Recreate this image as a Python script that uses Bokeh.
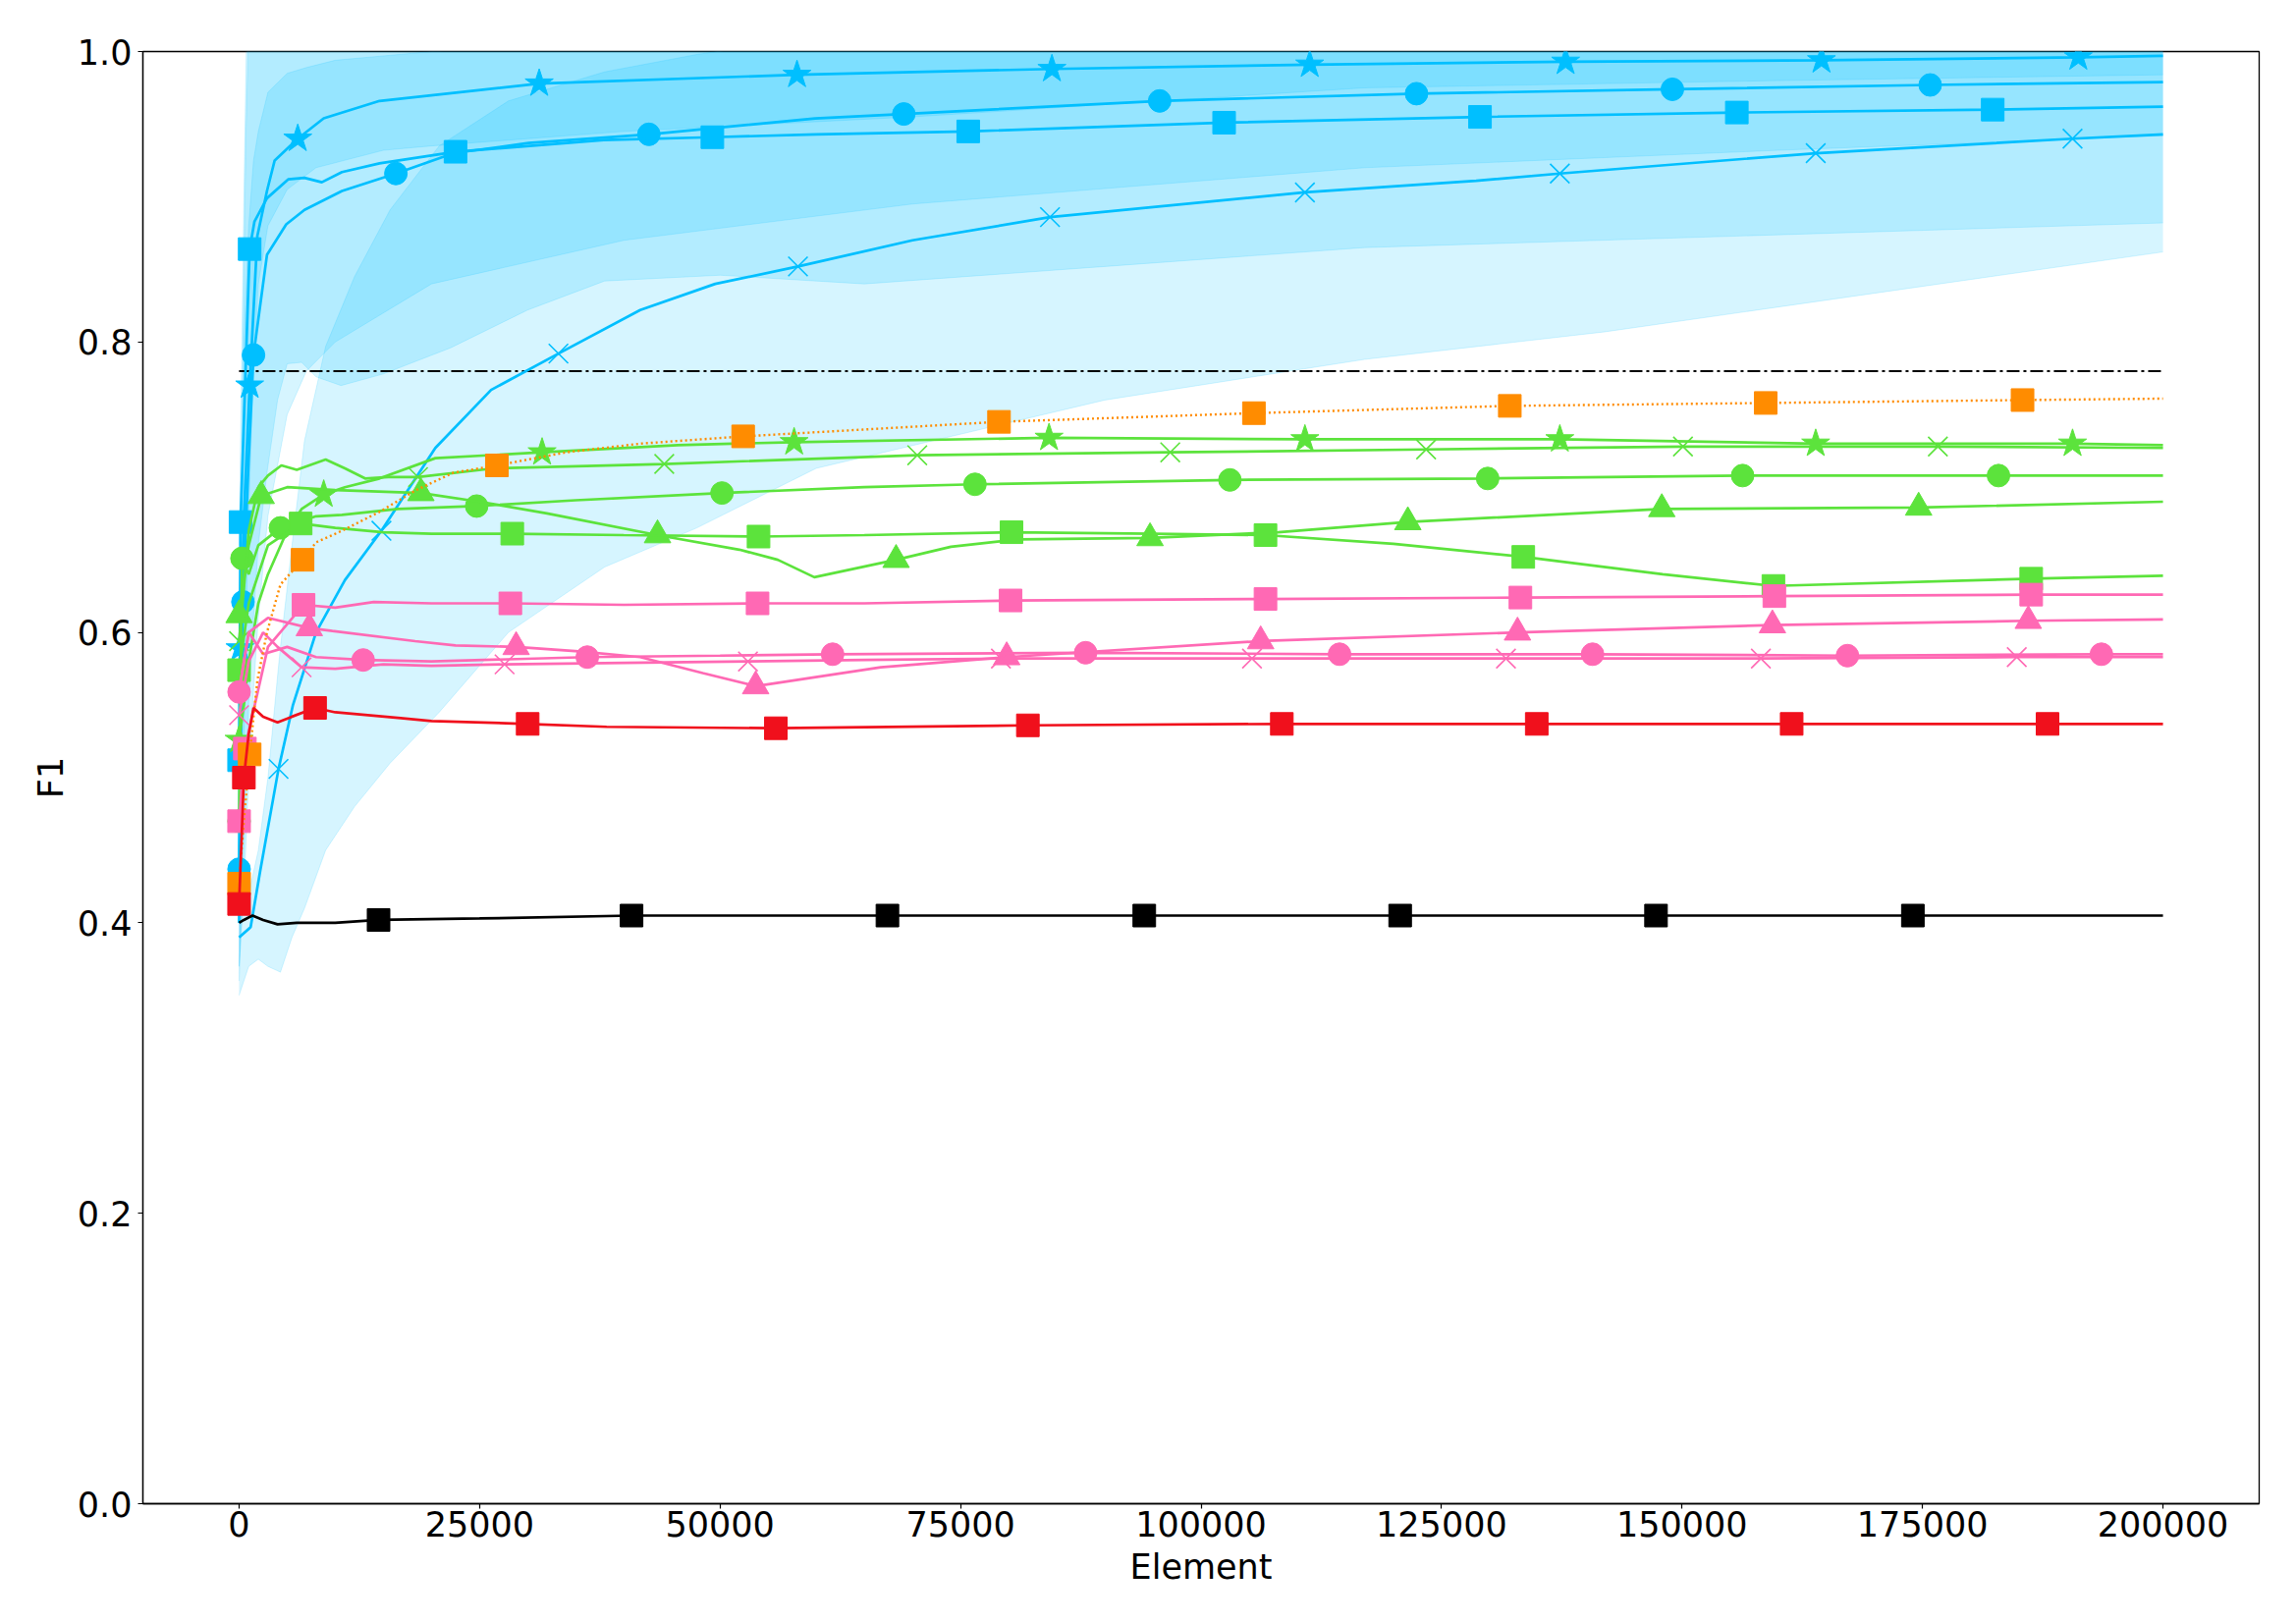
from bokeh.plotting import figure
from bokeh.models import Range1d, FixedTicker
from bokeh.embed import file_html
from bokeh.resources import INLINE

# ---------------- data ----------------
X_TICKS = [0, 25000, 50000, 75000, 100000, 125000, 150000, 175000, 200000]
X_TICK_LABELS = ["0", "25000", "50000", "75000", "100000", "125000", "150000", "175000", "200000"]
Y_TICKS = [0.0, 0.2, 0.4, 0.6, 0.8, 1.0]
Y_TICK_LABELS = ["0.0", "0.2", "0.4", "0.6", "0.8", "1.0"]
X_LABEL = "Element"
Y_LABEL = "F1"
REF_F1 = 0.78
REF_X = [0, 200000]

# blue series (with bands)
BSTAR_X = [0, 100, 500, 1100, 1900, 2900, 3700, 6100, 8800, 14600, 31200, 58000, 84500, 111300, 137900, 164500, 191200, 200000]
BSTAR_Y = [0.40, 0.589, 0.68, 0.770, 0.873, 0.904, 0.925, 0.940, 0.954, 0.966, 0.978, 0.984, 0.988, 0.991, 0.993, 0.994, 0.996, 0.997]
BSTAR_M = [1, 3, 7, 10, 11, 12, 13, 14, 15, 16]

BCIRC_X = [0, 400, 1000, 1500, 2900, 4900, 6800, 10700, 16300, 22300, 30100, 42600, 59900, 69100, 95700, 122400, 149000, 175800, 200000]
BCIRC_Y = [0.437, 0.621, 0.72, 0.791, 0.860, 0.881, 0.891, 0.904, 0.916, 0.930, 0.937, 0.943, 0.954, 0.957, 0.966, 0.971, 0.974, 0.977, 0.979]
BCIRC_M = [0, 1, 3, 8, 11, 13, 14, 15, 16, 17]

BSQ_X = [0, 150, 1100, 1600, 2900, 5100, 6800, 8600, 10700, 14600, 22500, 37900, 49200, 60000, 75800, 102400, 129000, 155700, 182300, 200000]
BSQ_Y = [0.512, 0.676, 0.864, 0.883, 0.899, 0.912, 0.913, 0.910, 0.917, 0.923, 0.931, 0.939, 0.941, 0.943, 0.945, 0.951, 0.955, 0.958, 0.960, 0.962]
BSQ_M = [0, 1, 2, 10, 12, 14, 15, 16, 17, 18]

BX_X = [0, 1200, 2200, 4100, 5600, 8000, 11000, 14800, 20400, 26200, 33200, 41700, 49500, 58100, 70000, 84300, 110800, 128600, 137300, 163900, 190600, 200000]
BX_Y = [0.39, 0.397, 0.436, 0.506, 0.550, 0.600, 0.636, 0.670, 0.727, 0.767, 0.792, 0.822, 0.840, 0.852, 0.870, 0.886, 0.903, 0.911, 0.916, 0.930, 0.940, 0.943]
BX_M = [3, 7, 10, 13, 15, 16, 18, 19, 20]

# bands (lower / upper)
BAND_STAR_X = [0, 300, 700, 1000, 1500, 2000, 3000, 5000, 8000, 15000, 20000, 40000, 70000, 117000, 160000, 200000]
BAND_STAR_LO = [0.37, 0.45, 0.60, 0.68, 0.78, 0.84, 0.88, 0.905, 0.92, 0.932, 0.935, 0.945, 0.955, 0.975, 0.980, 0.984]
BAND_STAR_HI = [0.43, 0.75, 0.94, 1.02, 1.04, 1.04, 1.04, 1.04, 1.04, 1.03, 1.03, 1.02, 1.02, 1.01, 1.01, 1.01]

BAND_CIRC_X = [0, 500, 1000, 1500, 2000, 3000, 5000, 7000, 10000, 15000, 20000, 40000, 70000, 117000, 160000, 200000]
BAND_CIRC_LO = [0.37, 0.42, 0.50, 0.56, 0.61, 0.68, 0.75, 0.78, 0.80, 0.82, 0.84, 0.87, 0.895, 0.920, 0.932, 0.942]
BAND_CIRC_HI = [0.50, 0.80, 0.88, 0.925, 0.945, 0.972, 0.985, 0.989, 0.994, 0.997, 1.00, 1.01, 1.02, 1.02, 1.02, 1.02]

BAND_SQ_X = [0, 500, 1000, 1400, 2000, 2900, 4000, 5000, 6500, 8000, 10600, 15000, 22000, 30000, 38000, 50000, 65000, 90000, 117000, 200000]
BAND_SQ_LO = [0.36, 0.45, 0.55, 0.60, 0.66, 0.71, 0.76, 0.785, 0.786, 0.776, 0.770, 0.778, 0.796, 0.822, 0.842, 0.846, 0.840, 0.852, 0.865, 0.882]
BAND_SQ_HI = [0.66, 0.90, 1.10, 1.10, 1.08, 1.06, 1.05, 1.05, 1.05, 1.05, 1.05, 1.05, 1.05, 1.05, 1.05, 1.05, 1.05, 1.04, 1.04, 1.04]

BAND_X_X = [0, 1000, 2000, 3000, 4000, 4300, 5500, 6800, 9000, 12000, 15700, 20800, 28000, 38000, 47600, 60000, 90000, 117000, 142000, 200000]
BAND_X_LO = [0.35, 0.37, 0.375, 0.37, 0.367, 0.366, 0.39, 0.41, 0.45, 0.48, 0.51, 0.545, 0.60, 0.645, 0.672, 0.713, 0.76, 0.788, 0.807, 0.862]
BAND_X_HI = [0.40, 0.42, 0.45, 0.50, 0.57, 0.59, 0.66, 0.732, 0.797, 0.845, 0.891, 0.935, 0.966, 0.986, 0.998, 1.01, 1.02, 1.03, 1.03, 1.03]

# green series
GSTAR_X = [0, 500, 1000, 2000, 3000, 4000, 5000, 6500, 8800, 11000, 14600, 20400, 31500, 45600, 57700, 84200, 110800, 137300, 163900, 190600, 200000]
GSTAR_Y = [0.526, 0.55, 0.58, 0.62, 0.64, 0.655, 0.67, 0.685, 0.695, 0.70, 0.706, 0.72, 0.724, 0.729, 0.731, 0.734, 0.733, 0.733, 0.730, 0.730, 0.729]
GSTAR_M = [0, 8, 12, 14, 15, 16, 17, 18, 19]

GX_X = [0, 500, 1000, 2000, 3000, 4400, 6000, 9000, 11000, 13100, 15500, 18600, 26500, 44200, 70500, 96800, 123400, 150100, 176600, 200000]
GX_Y = [0.594, 0.63, 0.67, 0.70, 0.708, 0.715, 0.712, 0.719, 0.713, 0.706, 0.707, 0.707, 0.713, 0.716, 0.722, 0.724, 0.726, 0.728, 0.728, 0.727]
GX_M = [0, 11, 13, 14, 15, 16, 17, 18]

GCIRC_X = [0, 300, 1000, 2000, 4300, 8000, 10700, 16500, 24700, 35000, 50200, 65000, 76500, 103000, 129800, 156300, 182900, 200000]
GCIRC_Y = [0.47, 0.651, 0.64, 0.66, 0.672, 0.68, 0.681, 0.685, 0.687, 0.691, 0.696, 0.700, 0.702, 0.705, 0.706, 0.708, 0.708, 0.708]
GCIRC_M = [0, 1, 4, 8, 10, 12, 13, 14, 15, 16]

GTRI_X = [0, 1000, 2300, 5000, 10000, 18900, 25000, 32000, 43500, 52000, 56000, 59800, 68300, 74000, 81000, 94700, 108000, 121500, 147900, 174600, 200000]
GTRI_Y = [0.612, 0.66, 0.694, 0.70, 0.698, 0.696, 0.690, 0.682, 0.667, 0.657, 0.650, 0.638, 0.650, 0.659, 0.664, 0.665, 0.669, 0.676, 0.685, 0.686, 0.690]
GTRI_M = [0, 2, 5, 8, 12, 15, 17, 18, 19]

GSQ_X = [0, 1000, 3000, 6400, 10000, 15000, 20000, 28400, 40000, 54000, 65000, 80300, 95000, 106700, 120000, 133500, 148000, 159500, 186300, 200000]
GSQ_Y = [0.574, 0.62, 0.66, 0.675, 0.672, 0.669, 0.668, 0.668, 0.667, 0.666, 0.667, 0.669, 0.668, 0.667, 0.661, 0.652, 0.640, 0.632, 0.637, 0.639]
GSQ_M = [0, 3, 7, 9, 11, 13, 15, 17, 18]

# pink series
PSQ_X = [0, 600, 3000, 6700, 10000, 14000, 20000, 28200, 40000, 53900, 65000, 80200, 106700, 133200, 159600, 186300, 200000]
PSQ_Y = [0.47, 0.52, 0.59, 0.619, 0.617, 0.621, 0.620, 0.620, 0.619, 0.620, 0.620, 0.622, 0.623, 0.624, 0.625, 0.626, 0.626]
PSQ_M = [0, 1, 3, 7, 9, 11, 12, 13, 14, 15]

PTRI_X = [0, 1000, 3000, 7300, 9700, 18300, 22500, 28800, 35300, 41700, 48200, 53700, 66700, 79800, 106200, 132900, 159400, 186000, 200000]
PTRI_Y = [0.56, 0.60, 0.61, 0.603, 0.601, 0.594, 0.591, 0.590, 0.587, 0.583, 0.572, 0.563, 0.576, 0.583, 0.594, 0.600, 0.605, 0.608, 0.609]
PTRI_M = [3, 7, 11, 13, 14, 15, 16, 17]

PX_X = [0, 1000, 2500, 4000, 6500, 10000, 15000, 20000, 27600, 40000, 52900, 65000, 79200, 105300, 131700, 158200, 184800, 200000]
PX_Y = [0.543, 0.58, 0.60, 0.59, 0.576, 0.575, 0.578, 0.577, 0.578, 0.579, 0.580, 0.581, 0.582, 0.582, 0.582, 0.582, 0.583, 0.583]
PX_M = [0, 4, 8, 10, 12, 13, 14, 15, 16]

PCIRC_X = [0, 1000, 2500, 5000, 8000, 12900, 20000, 36200, 50000, 61700, 88000, 114400, 140700, 167200, 193600, 200000]
PCIRC_Y = [0.559, 0.60, 0.585, 0.59, 0.583, 0.581, 0.580, 0.583, 0.584, 0.585, 0.586, 0.585, 0.585, 0.584, 0.585, 0.585]
PCIRC_M = [0, 5, 7, 9, 10, 11, 12, 13, 14]

# red, orange, black
RED_X = [0, 500, 1000, 1500, 2500, 4000, 5500, 7900, 10000, 16800, 20000, 30000, 38200, 55800, 82000, 108400, 134900, 161400, 188000, 200000]
RED_Y = [0.413, 0.500, 0.53, 0.548, 0.542, 0.538, 0.542, 0.548, 0.545, 0.541, 0.539, 0.537, 0.535, 0.534, 0.536, 0.537, 0.537, 0.537, 0.537, 0.537]
RED_M = [0, 1, 7, 11, 13, 14, 15, 16, 17, 18]

OR_X = [0, 500, 1100, 1900, 2900, 4300, 6600, 8000, 10700, 14600, 18400, 22300, 26800, 34000, 41700, 52400, 79000, 105500, 132100, 158700, 185400, 200000]
OR_Y = [0.427, 0.47, 0.516, 0.567, 0.600, 0.633, 0.650, 0.662, 0.670, 0.683, 0.698, 0.710, 0.715, 0.724, 0.730, 0.735, 0.745, 0.751, 0.756, 0.758, 0.760, 0.761]
OR_M = [0, 2, 6, 12, 15, 16, 17, 18, 19, 20]

BK_X = [0, 500, 1400, 2500, 4000, 6000, 10000, 14500, 25000, 40800, 67400, 94100, 120700, 147300, 174000, 200000]
BK_Y = [0.40, 0.402, 0.405, 0.402, 0.399, 0.400, 0.400, 0.402, 0.403, 0.405, 0.405, 0.405, 0.405, 0.405, 0.405, 0.405]
BK_M = [7, 9, 10, 11, 12, 13, 14]

# ---------------- styles ----------------
BLUE = "#00BFFF"
GREEN = "#5CE33C"
PINK = "#FF69B4"
RED = "#F0101C"
ORANGE = "#FF8C00"
BLACK = "#000000"
FONT = "DejaVu Sans"
FS = "35px"
LW = 2.7
MS = 23

p = figure(width=2338, height=1653, output_backend="svg", toolbar_location=None,
           x_range=Range1d(-10000, 210000), y_range=Range1d(0, 1),
           min_border_left=145, min_border_right=38, min_border_top=52, min_border_bottom=122)
p.background_fill_color = "white"
p.border_fill_color = "white"
p.grid.visible = False
p.outline_line_color = BLACK
p.outline_line_width = 1.3

for ax in (p.xaxis[0], p.yaxis[0]):
    ax.axis_line_color = BLACK
    ax.axis_line_width = 1.3
    ax.major_tick_in = 0
    ax.major_tick_out = 5
    ax.major_tick_line_width = 1.2
    ax.minor_tick_line_color = None
    ax.major_label_text_font = FONT
    ax.major_label_text_font_size = FS
    ax.major_label_text_color = BLACK
    ax.axis_label_text_font = FONT
    ax.axis_label_text_font_size = FS
    ax.axis_label_text_font_style = "normal"
    ax.axis_label_text_color = BLACK

p.xaxis.major_label_standoff = 2
p.yaxis.major_label_standoff = 6
p.xaxis.ticker = FixedTicker(ticks=X_TICKS)
p.xaxis.major_label_overrides = {t: l for t, l in zip(X_TICKS, X_TICK_LABELS)}
p.yaxis.ticker = FixedTicker(ticks=Y_TICKS)
p.yaxis.major_label_overrides = {t: l for t, l in zip(Y_TICKS, Y_TICK_LABELS)}
p.xaxis.axis_label = X_LABEL
p.yaxis.axis_label = Y_LABEL
p.xaxis.axis_label_standoff = 8
p.yaxis.axis_label_standoff = 4

BAND_ALPHA = 0.16
for bx, lo, hi in [(BAND_STAR_X, BAND_STAR_LO, BAND_STAR_HI),
                   (BAND_CIRC_X, BAND_CIRC_LO, BAND_CIRC_HI),
                   (BAND_SQ_X, BAND_SQ_LO, BAND_SQ_HI),
                   (BAND_X_X, BAND_X_LO, BAND_X_HI)]:
    p.varea(x=bx, y1=lo, y2=hi, fill_color=BLUE, fill_alpha=BAND_ALPHA)
    p.line(bx, lo, line_color=BLUE, line_alpha=BAND_ALPHA, line_width=1)
    p.line(bx, hi, line_color=BLUE, line_alpha=BAND_ALPHA, line_width=1)

p.line(REF_X, [REF_F1, REF_F1], line_color=BLACK, line_width=2, line_dash="13 4 3 4")

series = [
    (BSTAR_X, BSTAR_Y, BSTAR_M, BLUE, "star", "solid"),
    (BCIRC_X, BCIRC_Y, BCIRC_M, BLUE, "circle", "solid"),
    (BSQ_X, BSQ_Y, BSQ_M, BLUE, "square", "solid"),
    (BX_X, BX_Y, BX_M, BLUE, "x", "solid"),
    (GSTAR_X, GSTAR_Y, GSTAR_M, GREEN, "star", "solid"),
    (GX_X, GX_Y, GX_M, GREEN, "x", "solid"),
    (GCIRC_X, GCIRC_Y, GCIRC_M, GREEN, "circle", "solid"),
    (GTRI_X, GTRI_Y, GTRI_M, GREEN, "triangle", "solid"),
    (GSQ_X, GSQ_Y, GSQ_M, GREEN, "square", "solid"),
    (PSQ_X, PSQ_Y, PSQ_M, PINK, "square", "solid"),
    (PTRI_X, PTRI_Y, PTRI_M, PINK, "triangle", "solid"),
    (PX_X, PX_Y, PX_M, PINK, "x", "solid"),
    (PCIRC_X, PCIRC_Y, PCIRC_M, PINK, "circle", "solid"),
    (OR_X, OR_Y, OR_M, ORANGE, "square", "2 3"),
    (RED_X, RED_Y, RED_M, RED, "square", "solid"),
    (BK_X, BK_Y, BK_M, BLACK, "square", "solid"),
]

for xs, ys, marks, col, mk, dash in series:
    p.line(xs, ys, line_color=col, line_width=LW if dash == "solid" else 2.4, line_dash=dash)
    mx = [xs[i] for i in marks]
    my = [ys[i] for i in marks]
    if mk == "x":
        p.scatter(mx, my, marker="x", size=MS + 5, line_color=col, line_width=1.6)
    elif mk == "star":
        p.scatter(mx, my, marker="star", size=MS + 7, fill_color=col, line_color=col, line_width=1)
    elif mk == "triangle":
        p.scatter(mx, my, marker="triangle", size=MS + 4, fill_color=col, line_color=col, line_width=1)
    else:
        p.scatter(mx, my, marker=mk, size=MS, fill_color=col, line_color=col, line_width=1)

open("out.html", "w").write(file_html(p, INLINE))
